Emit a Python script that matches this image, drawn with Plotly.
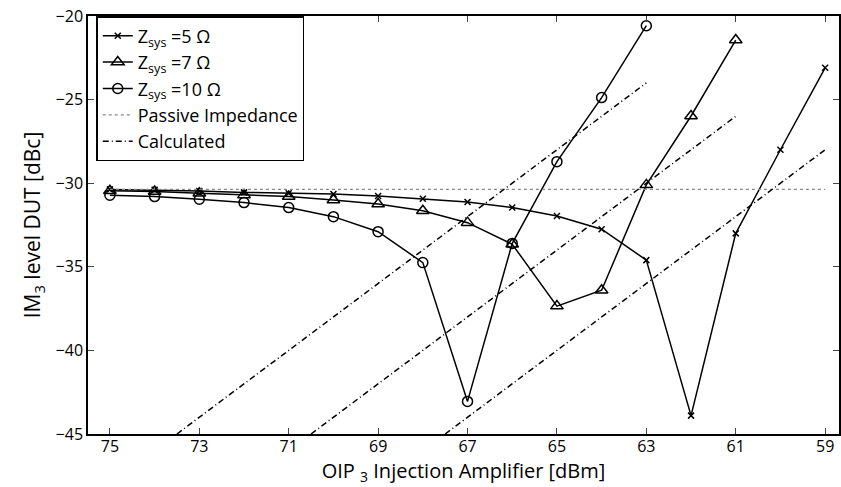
import plotly.graph_objects as go

x_oip = [75, 74, 73, 72, 71, 70, 69, 68, 67, 66, 65, 64, 63, 62, 61, 60, 59]
z5 = [-30.37, -30.4, -30.47, -30.55, -30.6, -30.65, -30.76, -30.93, -31.13, -31.45,
      -31.96, -32.75, -34.6, -43.9, -33.0, -28.0, -23.1]
x_z7 = [75, 74, 73, 72, 71, 70, 69, 68, 67, 66, 65, 64, 63, 62, 61]
z7 = [-30.45, -30.5, -30.6, -30.7, -30.8, -31.0, -31.25, -31.65, -32.36, -33.65,
      -37.35, -36.4, -30.1, -25.98, -21.44]
x_z10 = [75, 74, 73, 72, 71, 70, 69, 68, 67, 66, 65, 64, 63]
z10 = [-30.72, -30.8, -30.96, -31.16, -31.46, -32.0, -32.9, -34.75, -43.05, -33.6,
       -28.71, -24.88, -20.58]
passive_x = [75, 59]
passive_y = [-30.37, -30.37]
calc1_x = [73.5, 63]
calc1_y = [-45, -24]
calc2_x = [70.5, 61]
calc2_y = [-45, -26]
calc3_x = [67.5, 59]
calc3_y = [-45, -28]
xticks = [75, 73, 71, 69, 67, 65, 63, 61, 59]
yticks = [-45, -40, -35, -30, -25, -20]

FONT = "Open Sans"
fig = go.Figure()
line = dict(color="black", width=1.5)
fig.add_trace(go.Scatter(x=x_oip, y=z5, mode="lines+markers", line=line,
                         marker=dict(symbol="x-thin-open", size=6, color="black",
                                     line=dict(width=1.5, color="black")),
                         name="Z<sub>sys</sub> =5 Ω"))
fig.add_trace(go.Scatter(x=x_z7, y=z7, mode="lines+markers", line=line,
                         marker=dict(symbol="triangle-up-open", size=11, color="black",
                                     line=dict(width=1.5, color="black")),
                         name="Z<sub>sys</sub> =7 Ω"))
fig.add_trace(go.Scatter(x=x_z10, y=z10, mode="lines+markers", line=line,
                         marker=dict(symbol="circle-open", size=10, color="black",
                                     line=dict(width=1.5, color="black")),
                         name="Z<sub>sys</sub> =10 Ω"))
fig.add_trace(go.Scatter(x=passive_x, y=passive_y, mode="lines",
                         line=dict(color="#888888", width=1.2, dash="dot"),
                         name="Passive Impedance"))
dd = dict(color="black", width=1.5, dash="6px,3px,1px,3px")
fig.add_trace(go.Scatter(x=calc1_x, y=calc1_y, mode="lines", line=dd, name="Calculated",
                         legendgroup="calc"))
fig.add_trace(go.Scatter(x=calc2_x, y=calc2_y, mode="lines", line=dd, name="Calculated",
                         legendgroup="calc", showlegend=False))
fig.add_trace(go.Scatter(x=calc3_x, y=calc3_y, mode="lines", line=dd, name="Calculated",
                         legendgroup="calc", showlegend=False))

fig.update_layout(
    width=841, height=487,
    margin=dict(l=88, r=0, t=16, b=53),
    paper_bgcolor="white", plot_bgcolor="white",
    font=dict(family=FONT, size=16, color="black"),
    showlegend=True,
    legend=dict(x=0.011, y=1.0, xanchor="left", yanchor="top",
                bordercolor="black", borderwidth=1.5, bgcolor="white",
                font=dict(size=18, family=FONT), tracegroupgap=0,
                itemwidth=30),
)
fig.update_xaxes(range=[75.49, 58.69], tickvals=xticks, ticks="inside", ticklen=6,
                 showline=True, linecolor="black", linewidth=1.5, mirror="ticks",
                 showgrid=False, zeroline=False, tickfont=dict(size=16),
                 ticklabelstandoff=-3,
                 title=dict(text="OIP <sub>3</sub> Injection Amplifier [dBm]",
                            font=dict(size=20), standoff=6))
fig.update_yaxes(range=[-45, -20], tickvals=yticks,
                 ticktext=["\u221245", "\u221240", "\u221235", "\u221230", "\u221225", "\u221220"],
                 ticks="inside", ticklen=6,
                 showline=True, linecolor="black", linewidth=1.5, mirror="ticks",
                 showgrid=False, zeroline=False, tickfont=dict(size=16),
                 title=dict(text="IM<sub>3</sub> level DUT [dBc]", font=dict(size=21), standoff=9))

fig.write_html("out.html")
